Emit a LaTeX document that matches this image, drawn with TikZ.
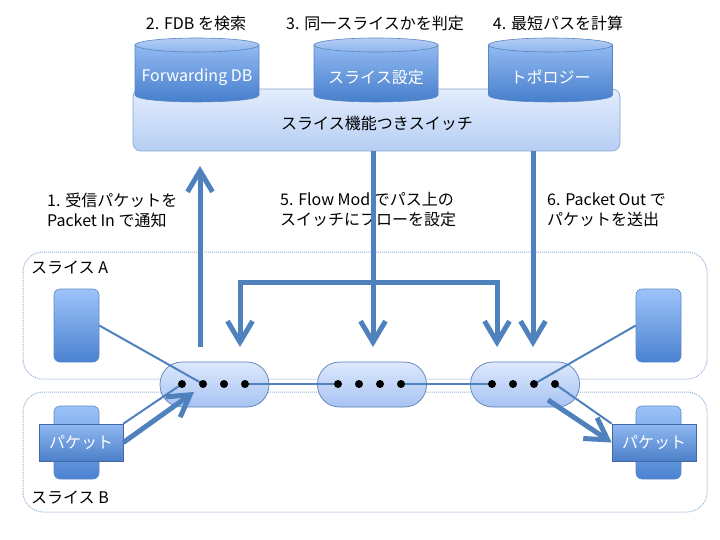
\documentclass[tikz,border=0pt]{standalone}
\usepackage{fontspec}
\setmainfont{Noto Sans CJK JP}
\usetikzlibrary{arrows.meta}
\definecolor{acc}{HTML}{4F81BD}
\definecolor{sliceE}{HTML}{95B3D7}
\definecolor{hostT}{HTML}{9DC3F9}
\definecolor{hostB}{HTML}{4A82D0}
\definecolor{hostE}{HTML}{5A8AC6}
\definecolor{pktT}{HTML}{90B8F2}
\definecolor{pktB}{HTML}{4C80C9}
\definecolor{pktE}{HTML}{41689F}
\definecolor{pillT}{HTML}{DDE8FC}
\definecolor{pillB}{HTML}{A7C3F3}
\definecolor{pillE}{HTML}{5B7FB5}
\definecolor{boxT}{HTML}{E3EDFC}
\definecolor{boxB}{HTML}{B6CEF4}
\definecolor{boxE}{HTML}{89A7D4}
\definecolor{cylT}{HTML}{92BAF2}
\definecolor{cylB}{HTML}{437CCA}
\definecolor{cylE}{HTML}{5A86C0}
\definecolor{cylTopT}{HTML}{B5CFF5}
\definecolor{cylTopB}{HTML}{8DB5EC}
\newcommand\mycyl[3]{%
  \path[draw=cylE, line width=0.6pt, top color=cylT, bottom color=cylB]
    ({#1-62},45) -- ({#1-62},95) .. controls ({#1-62},104.3) and ({#1+62},104.3) .. ({#1+62},95) -- ({#1+62},45) -- cycle;
  \path[draw=cylE, line width=0.6pt, top color=cylTopT, bottom color=cylTopB]
    (#1,45) ellipse[x radius=62pt, y radius=7pt];
  \node[text=white] (#2) at (#1,77) {#3};
}
\tikzset{
  slice/.style={draw=sliceE, densely dotted, line width=1pt, rounded corners=20pt},
  pill/.style={draw=pillE, line width=0.7pt, top color=pillT, bottom color=pillB,
    rounded corners=22pt, minimum width=109pt, minimum height=45pt, inner sep=0pt},
  dot/.style={circle, fill=black, inner sep=0pt, minimum size=8pt},
  host/.style={draw=hostE, line width=0.6pt, top color=hostT, bottom color=hostB,
    rounded corners=6pt, minimum width=45pt, minimum height=73pt, inner sep=0pt},
  pkt/.style={draw=pktE, line width=0.6pt, top color=pktT, bottom color=pktB,
    minimum width=84pt, minimum height=37pt, inner sep=0pt, text=white},
  thin/.style={draw=acc, line width=2pt},
  bigarrow/.style={draw=acc, line width=5pt,
    -{Straight Barb[length=21pt, width=25pt]}},
  lbl/.style={align=left, anchor=west, inner sep=0pt},
}
\begin{document}
\begin{tikzpicture}[x=1pt, y=-1pt, font=\fontsize{16}{20}\selectfont]
\useasboundingbox (0,0) rectangle (720,540);

% slices
\draw[slice] (23,252) rectangle (707,379);
\draw[slice] (23,392) rectangle (707,512);
\node[anchor=west, inner sep=0pt] (sa) at (31,268) {スライス A};
\node[anchor=west, inner sep=0pt] (sb) at (31,498) {スライス B};

% controller
\node[draw=boxE, line width=0.7pt, rounded corners=8pt, top color=boxT, bottom color=boxB,
  minimum width=487pt, minimum height=62pt, inner sep=0pt] (sw) at (376.5,120) {};
\node (swl) at (377,123) {スライス機能つきスイッチ};
\mycyl{197}{fdb}{Forwarding DB}
\mycyl{376}{sl}{スライス設定}
\mycyl{550.5}{topo}{トポロジー}
\node (l2) at (196,23) {2. FDB を検索};
\node (l3) at (375,23) {3. 同一スライスかを判定};
\node (l4) at (558,23) {4. 最短パスを計算};

% middle labels
\node[lbl] (t1) at (47,210) {1. 受信パケットを\\Packet In で通知};
\node[lbl] (t5) at (280,210) {5. Flow Mod でパス上の\\スイッチにフローを設定};
\node[lbl] (t6) at (547,210) {6. Packet Out で\\パケットを送出};

% hosts
\node[host] (hA1) at (76.5,325.5) {};
\node[host] (hA2) at (658.5,325.5) {};
\node[host] (hB1) at (76.5,442.5) {};
\node[host] (hB2) at (658.5,442.5) {};

% switches
\node[pill] (s1) at (214.5,384.5) {};
\node[pill] (s2) at (372,384.5) {};
\node[pill] (s3) at (525,384.5) {};

\coordinate (d11) at (182,384); \coordinate (d12) at (203,384);
\coordinate (d13) at (224,384); \coordinate (d14) at (245,384);
\coordinate (d21) at (338,384); \coordinate (d22) at (359,384);
\coordinate (d23) at (380,384); \coordinate (d24) at (401,384);
\coordinate (d31) at (492,384); \coordinate (d32) at (513,384);
\coordinate (d33) at (534,384); \coordinate (d34) at (555,384);

% packets
\node[pkt] (pB1) at (81,442.5) {パケット};
\node[pkt] (pB2) at (654,442.5) {パケット};

% thin links
\draw[thin] (d14) -- (d21);
\draw[thin] (d24) -- (d31);
\draw[thin] (hA1.east) -- (d12);
\draw[thin] (hA2.west) -- (d33);
\draw[thin] (pB1.north east) -- (d11);
\draw[thin] (d34) -- (pB2.north west);

\foreach \d in {d11,d12,d13,d14,d21,d22,d23,d24,d31,d32,d33,d34}
  \node[dot] at (\d) {};

% big arrows
\coordinate (upB) at (200,347); \coordinate (upT) at (200,166);
\coordinate (f5a) at (373,151); \coordinate (f5b) at (373,347);
\coordinate (f6a) at (533,151); \coordinate (f6b) at (533,347);
\coordinate (brL) at (240,282); \coordinate (brR) at (497,282);
\coordinate (brLb) at (240,347); \coordinate (brRb) at (497,347);
\coordinate (tipB1) at (194,392);
\coordinate (outB2) at (548,400);

\draw[bigarrow] (upB) -- (upT);
\draw[bigarrow] (f5a) -- (f5b);
\draw[bigarrow] (f6a) -- (f6b);
\draw[draw=acc, line width=5pt, {Straight Barb[length=21pt, width=25pt]}-{Straight Barb[length=21pt, width=25pt]}, line join=miter]
  (brLb) -- (brL) -- (brR) -- (brRb);
\draw[bigarrow] (pB1.east) -- (tipB1);
\draw[bigarrow] (outB2) -- (pB2.west);
\end{tikzpicture}
\end{document}
